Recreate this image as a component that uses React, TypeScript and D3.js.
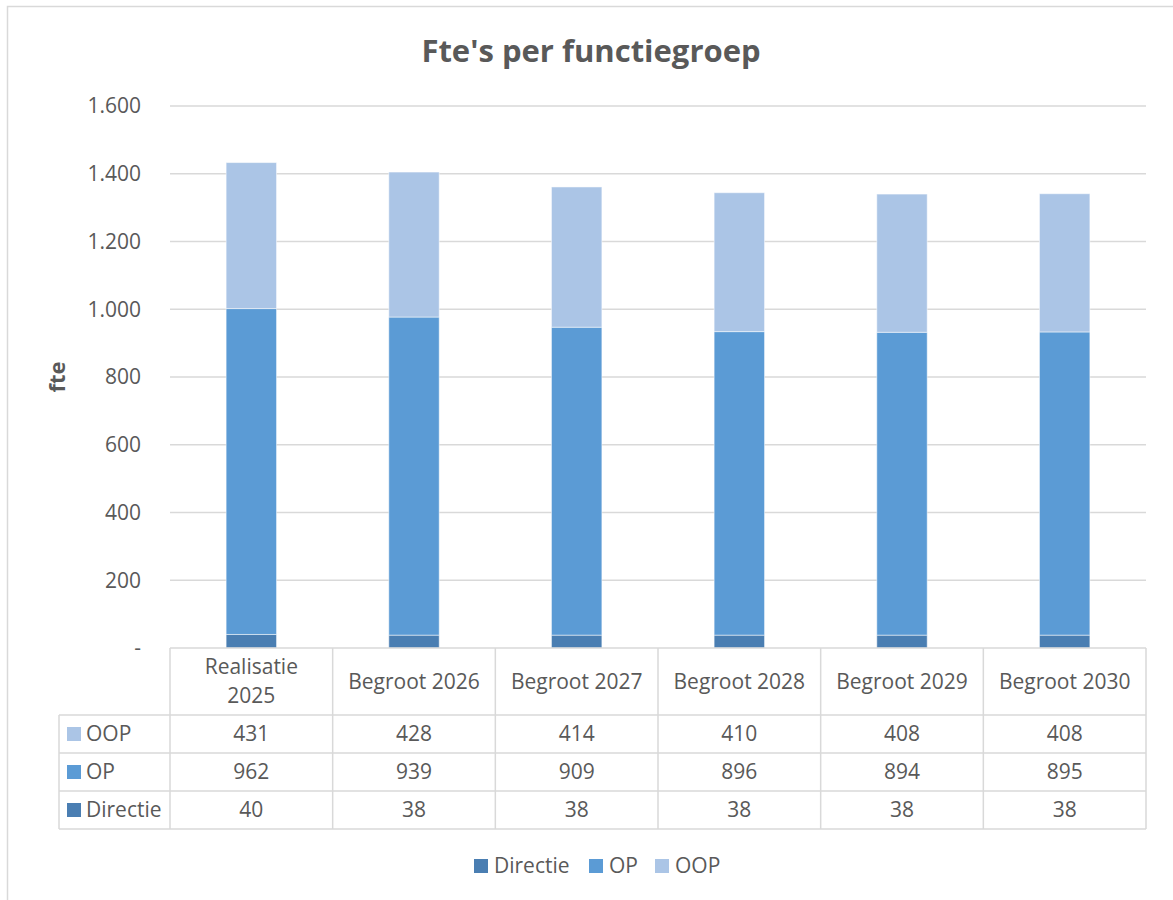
import React from "react";
import * as d3 from "d3";

const categories = ["Realisatie 2025", "Begroot 2026", "Begroot 2027", "Begroot 2028", "Begroot 2029", "Begroot 2030"];
const categoryLines = [["Realisatie", "2025"], ["Begroot 2026"], ["Begroot 2027"], ["Begroot 2028"], ["Begroot 2029"], ["Begroot 2030"]];
const directie = [40, 38, 38, 38, 38, 38];
const op = [962, 939, 909, 896, 894, 895];
const oop = [431, 428, 414, 410, 408, 408];
const seriesNames = ["Directie", "OP", "OOP"];
const seriesColors = ["#4a7eb2", "#5b9bd5", "#abc5e6"];
const yTicks = [0, 200, 400, 600, 800, 1000, 1200, 1400, 1600];

const W = 1173;
const H = 900;
const FONT = "'Open Sans', sans-serif";
const TXT = "#595959";
const LINE = "#d9d9d9";

export default function App() {
  const x = d3.scaleBand<string>().domain(categories).range([170, 1146]).paddingInner(0).paddingOuter(0);
  const y = d3.scaleLinear().domain([0, 1600]).range([648, 106]);
  const rows = categories.map((c, i) => ({ cat: c, Directie: directie[i], OP: op[i], OOP: oop[i] }));
  const stacked = d3.stack<any>().keys(seriesNames)(rows);
  const bw = x.bandwidth() * 0.31;
  const fmt = (d: number) => (d === 0 ? "-" : d3.format(",")(d).replace(/,/g, "."));

  // table geometry
  const tableLeft = 59;
  const headerTop = y(0);
  const headerBottom = 715;
  const rowH = 38;
  const tableRows = [
    { name: "OOP", values: oop, color: seriesColors[2] },
    { name: "OP", values: op, color: seriesColors[1] },
    { name: "Directie", values: directie, color: seriesColors[0] },
  ];
  const tableBottom = headerBottom + rowH * tableRows.length;
  const xEnd = x.range()[1];

  const legendItems = [
    { name: "Directie", color: seriesColors[0], x: 474 },
    { name: "OP", color: seriesColors[1], x: 589 },
    { name: "OOP", color: seriesColors[2], x: 655 },
  ];

  return (
    <svg width={W} height={H} style={{ position: "absolute", left: 0, top: 0, background: "#fff" }} fontFamily={FONT}>
      <rect x={7.5} y={6.5} width={1180} height={905} fill="#fff" stroke={LINE} strokeWidth={1.5} />
      <text x={591} y={62} textAnchor="middle" fontSize={31} fontWeight="bold" fill={TXT}>
        Fte's per functiegroep
      </text>
      {/* gridlines */}
      {yTicks.filter((t) => t > 0).map((t) => (
        <line key={t} x1={170} x2={xEnd} y1={y(t)} y2={y(t)} stroke={LINE} strokeWidth={1.5} />
      ))}
      {yTicks.map((t) => (
        <text key={"l" + t} x={141} y={y(t)} dy="0.35em" textAnchor="end" fontSize={21} fill={TXT}>
          {fmt(t)}
        </text>
      ))}
      <text transform={`translate(${65},${377}) rotate(-90)`} textAnchor="middle" fontSize={22} fontWeight="bold" fill={TXT}>
        fte
      </text>
      {/* bars */}
      {stacked.map((s, si) => (
        <g key={s.key}>
          {s.map((d, i) => (
            <rect
              key={i}
              x={(x(categories[i]) as number) + x.bandwidth() / 2 - bw / 2}
              y={y(d[1])}
              width={bw}
              height={y(d[0]) - y(d[1])}
              fill={seriesColors[si]}
              stroke="#fff"
              strokeOpacity={0.5}
              strokeWidth={1}
            />
          ))}
        </g>
      ))}
      {/* data table */}
      <g stroke={LINE} strokeWidth={1.5} fill="none">
        <line x1={170} x2={xEnd} y1={headerTop} y2={headerTop} />
        {[0, 1, 2, 3].map((r) => (
          <line key={r} x1={tableLeft} x2={xEnd} y1={headerBottom + r * rowH} y2={headerBottom + r * rowH} />
        ))}
        <line x1={tableLeft} x2={tableLeft} y1={headerBottom} y2={tableBottom} />
        {categories.map((c) => (
          <line key={c} x1={x(c) as number} x2={x(c) as number} y1={headerTop} y2={tableBottom} />
        ))}
        <line x1={xEnd} x2={xEnd} y1={headerTop} y2={tableBottom} />
      </g>
      {categories.map((c, i) => {
        const lines = categoryLines[i];
        const cx = (x(c) as number) + x.bandwidth() / 2;
        const mid = (headerTop + headerBottom) / 2;
        return (
          <text key={c} textAnchor="middle" fontSize={21} fill={TXT}>
            {lines.map((ln, li) => (
              <tspan key={li} x={cx} y={mid + (li - (lines.length - 1) / 2) * 29} dy="0.35em">
                {ln}
              </tspan>
            ))}
          </text>
        );
      })}
      {tableRows.map((r, ri) => {
        const cy = headerBottom + ri * rowH + rowH / 2;
        return (
          <g key={r.name}>
            <rect x={67} y={cy - 7} width={14} height={14} fill={r.color} />
            <text x={86} y={cy} dy="0.35em" fontSize={21} fill={TXT}>
              {r.name}
            </text>
            {r.values.map((v, i) => (
              <text key={i} x={(x(categories[i]) as number) + x.bandwidth() / 2} y={cy} dy="0.35em" textAnchor="middle" fontSize={21} fill={TXT}>
                {v}
              </text>
            ))}
          </g>
        );
      })}
      {/* legend */}
      {legendItems.map((l) => (
        <g key={l.name}>
          <rect x={l.x} y={859} width={14} height={14} fill={l.color} />
          <text x={l.x + 20} y={866} dy="0.35em" fontSize={21} fill={TXT}>
            {l.name}
          </text>
        </g>
      ))}
    </svg>
  );
}
